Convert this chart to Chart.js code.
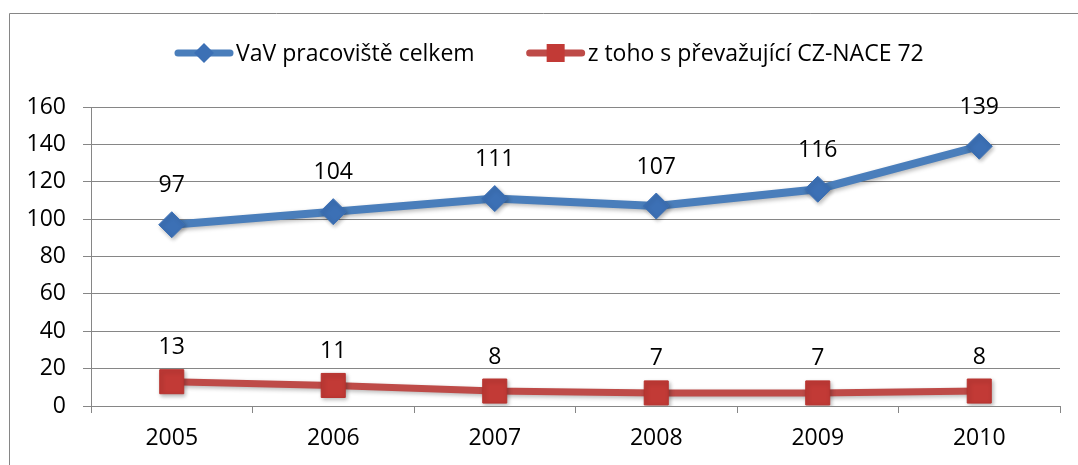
<!DOCTYPE html>
<html lang="cs">
<head>
<meta charset="utf-8">
<title>VaV pracoviště 2005–2010</title>
<script src="https://cdn.jsdelivr.net/npm/chart.js@4/dist/chart.umd.min.js"></script>
<style>
  html, body { margin: 0; padding: 0; background: #fff; }
  #wrap { width: 1078px; height: 465px; position: relative; }
</style>
</head>
<body>
<div id="wrap"><canvas id="c" width="1078" height="465"></canvas></div>
<script>
// Years on the category axis
const years = ['2005', '2006', '2007', '2008', '2009', '2010'];
// Number of R&D workplaces in total
const totalWorkplaces = [97, 104, 111, 107, 116, 139];
// Of which with prevailing CZ-NACE 72
const nace72Workplaces = [13, 11, 8, 7, 7, 8];
// Value axis ticks
const yTicks = [0, 20, 40, 60, 80, 100, 120, 140, 160];

const seriesNames = ['VaV pracoviště celkem', 'z toho s převažující CZ-NACE 72'];

const FONT = '"Open Sans", Lato, "DejaVu Sans", sans-serif';
const FONT_SIZE = 23;
const GRID = '#868686';
const BLUE_LINE = '#4A7EBB';
const BLUE_MARK = '#3C70B5';
const RED_LINE = '#BE4B48';
const RED_MARK = '#C23A36';

// Frame around the chart (top and left edge)
const framePlugin = {
  id: 'frame',
  beforeDraw(chart) {
    const ctx = chart.ctx;
    ctx.save();
    ctx.strokeStyle = GRID;
    ctx.lineWidth = 1;
    ctx.beginPath();
    ctx.moveTo(9.5, chart.height);
    ctx.lineTo(9.5, 13.5);
    ctx.lineTo(chart.width, 13.5);
    ctx.stroke();
    ctx.restore();
  }
};

// Soft drop shadow under lines and markers
const shadowPlugin = {
  id: 'softShadow',
  beforeDatasetDraw(chart) {
    const ctx = chart.ctx;
    ctx.save();
    ctx.shadowColor = 'rgba(0,0,0,0.28)';
    ctx.shadowBlur = 4;
    ctx.shadowOffsetX = 1.5;
    ctx.shadowOffsetY = 2;
  },
  afterDatasetDraw(chart) {
    chart.ctx.restore();
  }
};

// Value labels above each point
const valueLabelPlugin = {
  id: 'valueLabels',
  afterDatasetsDraw(chart) {
    const ctx = chart.ctx;
    ctx.save();
    ctx.font = FONT_SIZE + 'px ' + FONT;
    ctx.fillStyle = '#000';
    ctx.textAlign = 'center';
    ctx.textBaseline = 'middle';
    chart.data.datasets.forEach((ds, di) => {
      const meta = chart.getDatasetMeta(di);
      const lift = ds.labelLift;
      meta.data.forEach((pt, i) => {
        ctx.fillText(String(ds.data[i]), pt.x, pt.y - lift);
      });
    });
    ctx.restore();
  }
};

// Legend: line sample with marker, followed by the series name
const legendPlugin = {
  id: 'lineLegend',
  afterDraw(chart) {
    const ctx = chart.ctx;
    ctx.save();
    ctx.font = FONT_SIZE + 'px ' + FONT;
    const sampleW = 58, gapText = 3, gapItem = 52;
    let x = 175;
    const y = 53;
    chart.data.datasets.forEach((ds) => {
      ctx.save();
      ctx.lineCap = 'round';
      ctx.strokeStyle = ds.borderColor;
      ctx.lineWidth = 7;
      ctx.beginPath();
      ctx.moveTo(x + 3, y);
      ctx.lineTo(x + sampleW - 3, y);
      ctx.stroke();
      const cx = x + sampleW / 2;
      ctx.fillStyle = ds.pointBackgroundColor;
      ctx.beginPath();
      if (ds.pointStyle === 'rectRot') {
        const r = 10;
        ctx.moveTo(cx, y - r);
        ctx.lineTo(cx + r, y);
        ctx.lineTo(cx, y + r);
        ctx.lineTo(cx - r, y);
        ctx.closePath();
      } else {
        ctx.rect(cx - 9, y - 9, 18, 18);
      }
      ctx.fill();
      ctx.restore();
      ctx.fillStyle = '#000';
      ctx.textAlign = 'left';
      ctx.textBaseline = 'middle';
      ctx.fillText(ds.label, x + sampleW + gapText, y + 1);
      x += sampleW + gapText + ctx.measureText(ds.label).width + gapItem;
    });
    ctx.restore();
  }
};

new Chart(document.getElementById('c'), {
  type: 'line',
  data: {
    labels: years,
    datasets: [
      {
        label: seriesNames[0],
        data: totalWorkplaces,
        borderColor: BLUE_LINE,
        backgroundColor: BLUE_LINE,
        borderWidth: 8,
        pointStyle: 'rectRot',
        pointRadius: 13,
        pointBackgroundColor: BLUE_MARK,
        pointBorderColor: BLUE_MARK,
        pointBorderWidth: 1,
        tension: 0,
        labelLift: 39
      },
      {
        label: seriesNames[1],
        data: nace72Workplaces,
        borderColor: RED_LINE,
        backgroundColor: RED_LINE,
        borderWidth: 7,
        pointStyle: 'rect',
        pointRadius: 17,
        pointBackgroundColor: RED_MARK,
        pointBorderColor: '#B8332F',
        pointBorderWidth: 1,
        tension: 0,
        labelLift: 34
      }
    ]
  },
  options: {
    responsive: false,
    animation: false,
    events: [],
    layout: { padding: { left: 0, right: 14, top: 107, bottom: 0 } },
    plugins: {
      legend: { display: false },
      tooltip: { enabled: false },
      title: { display: false }
    },
    scales: {
      x: {
        offset: true,
        grid: {
          offset: true,
          drawOnChartArea: false,
          drawTicks: true,
          tickLength: 7,
          color: GRID,
          lineWidth: 1
        },
        border: { display: true, color: GRID, width: 1 },
        ticks: {
          color: '#000',
          font: { family: FONT, size: FONT_SIZE },
          padding: 12,
          maxRotation: 0
        },
        afterFit(scale) { scale.height = 59; }
      },
      y: {
        min: 0,
        max: 160,
        afterBuildTicks(scale) { scale.ticks = yTicks.map(v => ({ value: v })); },
        grid: {
          drawTicks: true,
          tickLength: 8,
          color: GRID,
          lineWidth: 1
        },
        border: { display: true, color: GRID, width: 1 },
        ticks: {
          color: '#000',
          font: { family: FONT, size: FONT_SIZE },
          padding: 17
        },
        afterFit(scale) { scale.width = 91; }
      }
    }
  },
  plugins: [framePlugin, shadowPlugin, valueLabelPlugin, legendPlugin]
});
</script>
</body>
</html>
